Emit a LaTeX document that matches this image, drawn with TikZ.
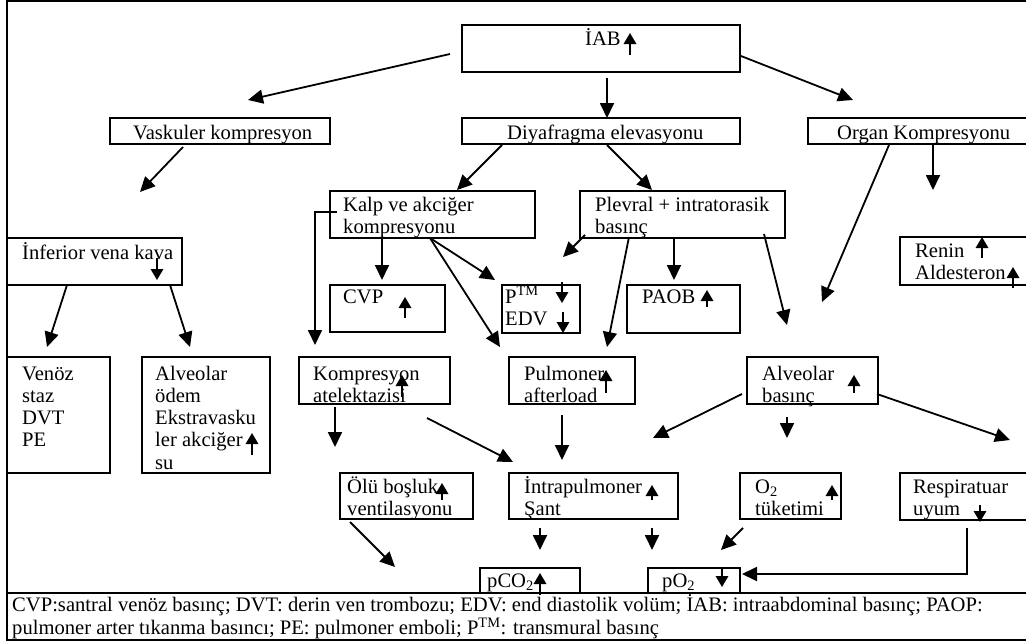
\documentclass[tikz,border=0pt]{standalone}
\usepackage{fontspec}
\setmainfont{Liberation Serif}
\usetikzlibrary{arrows.meta}
\newcommand{\ml}[1]{\begin{tabular}[t]{@{}l@{}}#1\end{tabular}}
\begin{document}
\begin{tikzpicture}[x=1pt,y=-1pt,
  box/.style={draw, line width=2pt, anchor=north west, inner sep=0pt, outer sep=0pt},
  txt/.style={anchor=base west, inner sep=0pt, font=\fontsize{20.6}{22.3}\selectfont},
  conn/.style={line width=1.8pt, -{Triangle[length=15pt,width=14pt]}},
  sarr/.style={line width=1.7pt, -{Triangle[length=11pt,width=12.5pt]}}]
\useasboundingbox (0,0) rectangle (1026,643);
\clip (0,0) rectangle (1026,643);
% frame and legend
\node[box, minimum width=1040pt, minimum height=639pt] (frame) at (7,1) {};
\node[box, minimum width=1040pt, minimum height=47pt] (legend) at (7,593) {};
% boxes
\node[box, minimum width=278pt, minimum height=47pt] (iab) at (462,25) {};
\node[box, minimum width=220pt, minimum height=26pt] (vask) at (110,118) {};
\node[box, minimum width=278pt, minimum height=26pt] (diy) at (462,118) {};
\node[box, minimum width=230pt, minimum height=26pt] (organ) at (808,118) {};
\node[box, minimum width=205pt, minimum height=47pt] (kalp) at (330,191) {};
\node[box, minimum width=205pt, minimum height=47pt] (plev) at (580,191) {};
\node[box, minimum width=175pt, minimum height=47pt] (inf) at (7,238) {};
\node[box, minimum width=115pt, minimum height=47pt] (cvp) at (330,285) {};
\node[box, minimum width=78pt, minimum height=48pt] (ptm) at (502,285) {};
\node[box, minimum width=113pt, minimum height=48pt] (paob) at (627,285) {};
\node[box, minimum width=140pt, minimum height=48pt] (renin) at (900,237) {};
\node[box, minimum width=103pt, minimum height=116pt] (venoz) at (7,357) {};
\node[box, minimum width=128pt, minimum height=116pt] (alvodem) at (142,357) {};
\node[box, minimum width=151pt, minimum height=47pt] (kompr) at (299,357) {};
\node[box, minimum width=126pt, minimum height=47pt] (pulm) at (509,357) {};
\node[box, minimum width=131pt, minimum height=47pt] (alvbas) at (747,357) {};
\node[box, minimum width=133pt, minimum height=46pt] (olu) at (340,473) {};
\node[box, minimum width=169pt, minimum height=46pt] (intra) at (509,473) {};
\node[box, minimum width=101pt, minimum height=46pt] (otwo) at (740,473) {};
\node[box, minimum width=140pt, minimum height=47pt] (resp) at (900,473) {};
\node[box, minimum width=100pt, minimum height=25pt] (pco) at (480,568) {};
\node[box, minimum width=92pt, minimum height=25pt] (poo) at (648,568) {};
% texts
\node[txt] (tiab) at (585,45) {İAB};
\node[txt] (tvask) at (133,139) {Vaskuler kompresyon};
\node[txt] (tdiy) at (507,139) {Diyafragma elevasyonu};
\node[txt] (torgan) at (837,139) {Organ Kompresyonu};
\node[txt] (tkalp) at (343,211) {\ml{Kalp ve akciğer\\kompresyonu}};
\node[txt] (tplev) at (595,211) {\ml{Plevral + intratorasik\\basınç}};
\node[txt] (tinf) at (22,259) {İnferior vena kava};
\node[txt] (tcvp) at (343,303) {CVP};
\node[txt] (tptm) at (505,303) {\ml{P\textsuperscript{TM}\\EDV}};
\node[txt] (tpaob) at (642,303) {PAOB};
\node[txt] (trenin) at (915,257) {\ml{Renin\\Aldesteron}};
\node[txt] (tvenoz) at (22,380) {\ml{Venöz\\staz\\DVT\\PE}};
\node[txt] (talvodem) at (155,380) {\ml{Alveolar\\ödem\\Ekstravasku\\ler akciğer\\su}};
\node[txt] (tkompr) at (313,380) {\ml{Kompresyon\\atelektazisi}};
\node[txt] (tpulm) at (524,380) {\ml{Pulmoner\\afterload}};
\node[txt] (talvbas) at (762,380) {\ml{Alveolar\\basınç}};
\node[txt] (tolu) at (347,493) {\ml{Ölü boşluk\\ventilasyonu}};
\node[txt] (tintra) at (524,493) {\ml{İntrapulmoner\\Şant}};
\node[txt] (totwo) at (755,493) {\ml{O\textsubscript{2}\\tüketimi}};
\node[txt] (tresp) at (913,493) {\ml{Respiratuar\\uyum}};
\node[txt] (tpco) at (487,587) {pCO\textsubscript{2}};
\node[txt] (tpoo) at (662,587) {pO\textsubscript{2}};
\node[txt] (tleg) at (12,611) {\ml{CVP:santral venöz basınç; DVT: derin ven trombozu; EDV: end diastolik volüm; İAB: intraabdominal basınç; PAOP:\\pulmoner arter tıkanma basıncı; PE: pulmoner emboli; P\textsuperscript{TM}: transmural basınç}};
% small up/down arrows inside boxes
\draw[sarr] (630,55) -- (630,33);
\draw[sarr] (157,258) -- (157,280);
\draw[sarr] (405,318) -- (405,297);
\draw[sarr] (562,282) -- (562,303);
\draw[sarr] (563,312) -- (563,333);
\draw[sarr] (707,307) -- (707,290);
\draw[sarr] (982,258) -- (982,237);
\draw[sarr] (1013,288) -- (1013,267);
\draw[sarr] (252,455) -- (252,433);
\draw[sarr] (402,397) -- (402,375);
\draw[sarr] (606,393) -- (606,370);
\draw[sarr] (854,393) -- (854,375);
\draw[sarr] (442,500) -- (442,483);
\draw[sarr] (652,500) -- (652,485);
\draw[sarr] (832,500) -- (832,485);
\draw[sarr] (980,505) -- (980,522);
\draw[sarr] (540,595) -- (540,573);
\draw[sarr] (722,567) -- (722,587);
% connector end points
\coordinate (a1) at (450,54);  \coordinate (b1) at (248,100);
\coordinate (a2) at (607,78);  \coordinate (b2) at (607,118);
\coordinate (a3) at (741,56);  \coordinate (b3) at (853,100);
\coordinate (a4) at (933,145); \coordinate (b4) at (933,190);
\coordinate (a5) at (889,145); \coordinate (b5) at (822,302);
\coordinate (a6) at (183,147); \coordinate (b6) at (140,192);
\coordinate (a7) at (502,145); \coordinate (b7) at (457,190);
\coordinate (a8) at (607,145); \coordinate (b8) at (652,190);
\coordinate (a9) at (337,212); \coordinate (k9) at (315,212); \coordinate (b9) at (315,345);
\coordinate (a10) at (67,285); \coordinate (b10) at (47,347);
\coordinate (a11) at (170,285); \coordinate (b11) at (190,347);
\coordinate (a12) at (382,238); \coordinate (b12) at (382,280);
\coordinate (a13) at (430,238); \coordinate (b13) at (495,280);
\coordinate (b14) at (500,347);
\coordinate (a15) at (585,235); \coordinate (b15) at (563,257);
\coordinate (a16) at (629,237); \coordinate (b16) at (607,347);
\coordinate (a17) at (674,237); \coordinate (b17) at (674,280);
\coordinate (a18) at (764,234); \coordinate (b18) at (787,325);
\coordinate (a19) at (335,407); \coordinate (b19) at (335,447);
\coordinate (a20) at (427,418); \coordinate (b20) at (513,462);
\coordinate (a21) at (562,415); \coordinate (b21) at (562,460);
\coordinate (a22) at (742,394); \coordinate (b22) at (653,438);
\coordinate (a23) at (787,417); \coordinate (b23) at (787,438);
\coordinate (a24) at (877,394); \coordinate (b24) at (1010,440);
\coordinate (a25) at (350,522); \coordinate (b25) at (395,567);
\coordinate (a26) at (540,528); \coordinate (b26) at (540,550);
\coordinate (a27) at (652,528); \coordinate (b27) at (652,550);
\coordinate (a28) at (743,528); \coordinate (b28) at (721,550);
\coordinate (a29) at (967,528); \coordinate (k29) at (967,574); \coordinate (b29) at (742,574);
% connectors
\draw[conn] (a1) -- (b1);
\draw[conn] (a2) -- (b2);
\draw[conn] (a3) -- (b3);
\draw[conn] (a4) -- (b4);
\draw[conn] (a5) -- (b5);
\draw[conn] (a6) -- (b6);
\draw[conn] (a7) -- (b7);
\draw[conn] (a8) -- (b8);
\draw[conn] (a9) -- (k9) -- (b9);
\draw[conn] (a10) -- (b10);
\draw[conn] (a11) -- (b11);
\draw[conn] (a12) -- (b12);
\draw[conn] (a13) -- (b13);
\draw[conn] (a13) -- (b14);
\draw[conn] (a15) -- (b15);
\draw[conn] (a16) -- (b16);
\draw[conn] (a17) -- (b17);
\draw[conn] (a18) -- (b18);
\draw[conn] (a19) -- (b19);
\draw[conn] (a20) -- (b20);
\draw[conn] (a21) -- (b21);
\draw[conn] (a22) -- (b22);
\draw[conn] (a23) -- (b23);
\draw[conn] (a24) -- (b24);
\draw[conn] (a25) -- (b25);
\draw[conn] (a26) -- (b26);
\draw[conn] (a27) -- (b27);
\draw[conn] (a28) -- (b28);
\draw[conn] (a29) -- (k29) -- (b29);
\end{tikzpicture}
\end{document}
